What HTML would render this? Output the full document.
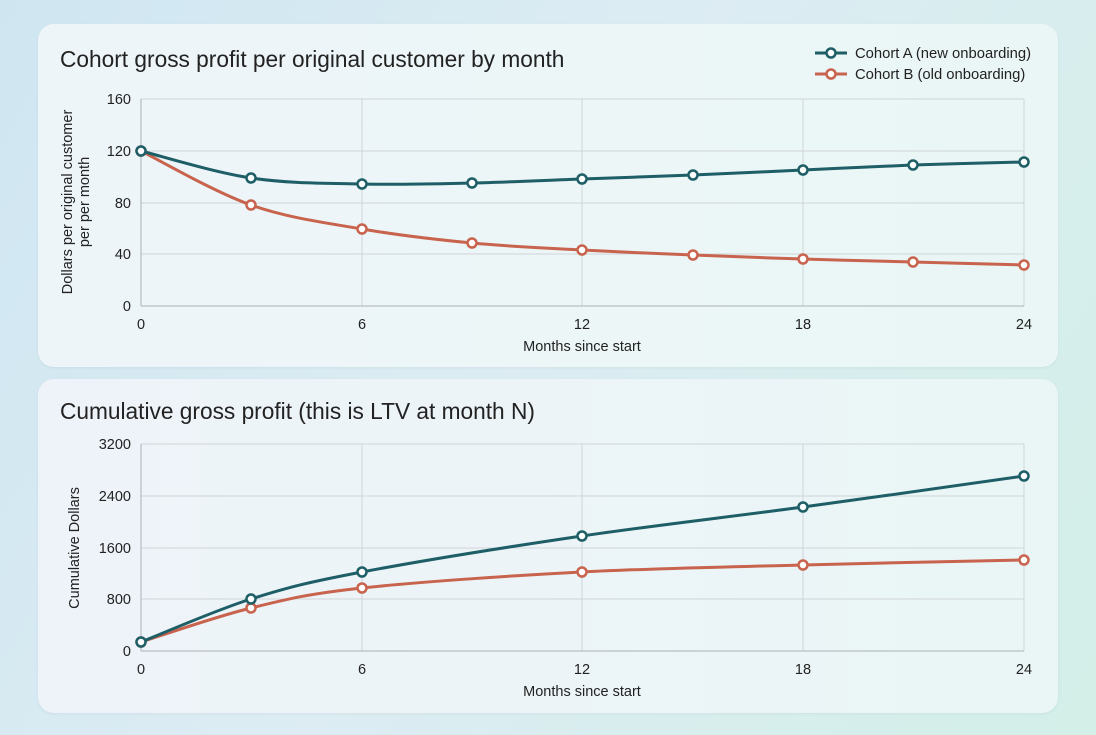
<!DOCTYPE html>
<html><head><meta charset="utf-8"><style>
html,body{margin:0;padding:0}
body{width:1096px;height:735px;overflow:hidden;background:linear-gradient(120deg,#cfe6f1 0%,#dcecf3 45%,#d3efe8 100%);font-family:"Liberation Sans",sans-serif;position:relative}
.card{position:absolute;left:38px;width:1020px;border-radius:16px;background:rgba(244,249,252,0.85);box-shadow:0 1px 3px rgba(0,0,0,0.05)}
svg{position:absolute;left:0;top:0}
</style></head><body>
<div class="card" style="top:24px;height:343px;background:linear-gradient(90deg,#eef5f9,#eaf6f5)"></div>
<div class="card" style="top:379px;height:334px;background:linear-gradient(90deg,#eef3f9,#eaf6f6)"></div>
<svg id="s" width="1096" height="735" font-family="Liberation Sans, sans-serif">
<text x="60" y="67" font-size="22.7" fill="#222">Cohort gross profit per original customer by month</text>
<text x="60" y="419" font-size="22.7" fill="#222">Cumulative gross profit (this is LTV at month N)</text>
<g stroke="#cfd4d8" stroke-width="1">
<line x1="141" y1="99" x2="1024" y2="99"/><line x1="141" y1="151" x2="1024" y2="151"/><line x1="141" y1="203" x2="1024" y2="203"/><line x1="141" y1="254" x2="1024" y2="254"/>
<line x1="362" y1="99" x2="362" y2="306"/><line x1="582" y1="99" x2="582" y2="306"/><line x1="803" y1="99" x2="803" y2="306"/><line x1="1024" y1="99" x2="1024" y2="306"/>
<line x1="141" y1="444" x2="1024" y2="444"/><line x1="141" y1="496" x2="1024" y2="496"/><line x1="141" y1="548" x2="1024" y2="548"/><line x1="141" y1="599" x2="1024" y2="599"/>
<line x1="362" y1="444" x2="362" y2="651"/><line x1="582" y1="444" x2="582" y2="651"/><line x1="803" y1="444" x2="803" y2="651"/><line x1="1024" y1="444" x2="1024" y2="651"/>
</g>
<g stroke="#aab1b6" stroke-width="1"><line x1="141" y1="99" x2="141" y2="306"/><line x1="141" y1="306" x2="1024" y2="306"/><line x1="141" y1="444" x2="141" y2="651"/><line x1="141" y1="651" x2="1024" y2="651"/></g>
<g font-size="14.5" fill="#222" text-anchor="end">
<text x="131" y="104">160</text><text x="131" y="156">120</text><text x="131" y="208">80</text><text x="131" y="259">40</text><text x="131" y="311">0</text>
<text x="131" y="449">3200</text><text x="131" y="501">2400</text><text x="131" y="553">1600</text><text x="131" y="604">800</text><text x="131" y="656">0</text>
</g>
<g font-size="14.5" fill="#222" text-anchor="middle">
<text x="141" y="329">0</text><text x="362" y="329">6</text><text x="582" y="329">12</text><text x="803" y="329">18</text><text x="1024" y="329">24</text>
<text x="141" y="674">0</text><text x="362" y="674">6</text><text x="582" y="674">12</text><text x="803" y="674">18</text><text x="1024" y="674">24</text>
<text x="582" y="351">Months since start</text><text x="582" y="696">Months since start</text>
<text transform="translate(72,202) rotate(-90)">Dollars per original customer</text>
<text transform="translate(89,202) rotate(-90)">per per month</text>
<text transform="translate(79,548) rotate(-90)">Cumulative Dollars</text>
</g>
<g font-size="14.8" fill="#222">
<line x1="815" y1="53" x2="847" y2="53" stroke="#1e5e66" stroke-width="3"/><circle cx="831" cy="53" r="4.5" fill="#fff" stroke="#1e5e66" stroke-width="2.5"/>
<text x="855" y="58">Cohort A (new onboarding)</text>
<line x1="815" y1="74" x2="847" y2="74" stroke="#c8644e" stroke-width="3"/><circle cx="831" cy="74" r="4.5" fill="#fff" stroke="#c8644e" stroke-width="2.5"/>
<text x="855" y="79">Cohort B (old onboarding)</text>
</g>
<g id="series"></g>
</svg>
<script>
var T="#1e5e66",O="#c8644e";
var data=[
[O,[[141,151],[251,205],[362,229],[472,243],[582,250],[693,255],[803,259],[913,262],[1024,265]]],
[T,[[141,151],[251,178],[362,184],[472,183],[582,179],[693,175],[803,170],[913,165],[1024,162]]],
[O,[[141,642],[251,608],[362,588],[582,572],[803,565],[1024,560]]],
[T,[[141,642],[251,599],[362,572],[582,536],[803,507],[1024,476]]]];
var g=document.getElementById("series"),h="";
data.forEach(function(d){var c=d[0],p=d[1],s="M"+p[0][0]+","+p[0][1];
for(var i=0;i<p.length-1;i++){var p0=p[i-1]||p[i],p1=p[i],p2=p[i+1],p3=p[i+2]||p2;
s+=" C"+(p1[0]+(p2[0]-p0[0])/6)+","+(p1[1]+(p2[1]-p0[1])/6)+" "+(p2[0]-(p3[0]-p1[0])/6)+","+(p2[1]-(p3[1]-p1[1])/6)+" "+p2[0]+","+p2[1];}
h+='<path d="'+s+'" fill="none" stroke="'+c+'" stroke-width="3"/>';
p.forEach(function(q){h+='<circle cx="'+q[0]+'" cy="'+q[1]+'" r="4.5" fill="#fff" stroke="'+c+'" stroke-width="2.5"/>';});});
g.innerHTML=h;
</script>
</body></html>
